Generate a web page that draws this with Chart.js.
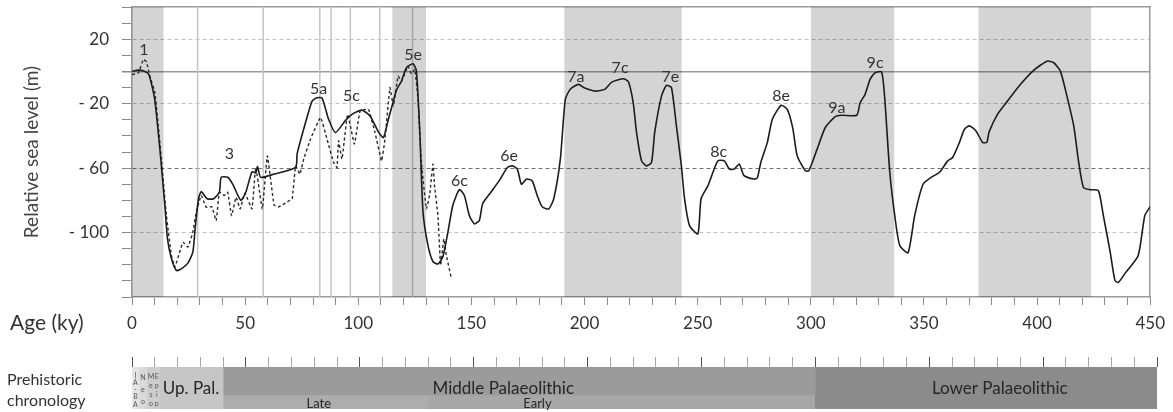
<!DOCTYPE html>
<html>
<head>
<meta charset="utf-8">
<title>Relative sea level and prehistoric chronology</title>
<script src="https://cdn.jsdelivr.net/npm/chart.js@4.4.1/dist/chart.umd.min.js"></script>
<style>
  html, body { margin: 0; padding: 0; background: #fff; }
  #wrap { position: relative; width: 1173px; height: 412px; }
  #seaChart { position: absolute; left: 0; top: 0; }
  #chronoChart { position: absolute; left: 0; top: 345px; }
</style>
</head>
<body>
<div id="wrap">
  <canvas id="seaChart" width="1173" height="345"></canvas>
  <canvas id="chronoChart" width="1173" height="67"></canvas>
</div>
<script>
// Main sea level curve (solid), age in ky, level in m
const seaAge = [0, 2.8, 5.7, 7.5, 10, 12.3, 14.5, 15.7, 17.4, 19.6, 21.8, 24.7, 26.9, 28, 29.4, 30.6,
  33.2, 36.1, 38.6, 39.4, 42.3, 44.5, 48.1, 50.3, 53, 54.7, 55.5, 56.9, 62.8, 72.3, 73, 76.7, 79.6,
  81.8, 84, 86.9, 89.9, 94.2, 97.2, 101.5, 105.2, 108.9, 111.1, 113.3, 115.5, 116.9, 119.1, 121.3,
  124.2, 125.7, 127.2, 128.6, 130.8, 133, 135.2, 137.4, 139.6, 141.8, 144.7, 146.9, 149.1, 151.3,
  153.5, 155, 158.6, 162.3, 165.9, 168.1, 170.3, 172.1, 174.4, 176.9, 179.1, 181.3, 184.2, 186.4,
  189.3, 191.5, 193.7, 197.4, 199.6, 204.7, 209.1, 212, 217.2, 219.4, 221.5, 223, 225.2, 227.4,
  229.6, 231, 234, 236.2, 238.4, 240.6, 242.8, 244.2, 246.4, 250.1, 251.5, 254.5, 258.9, 261.8,
  264, 266.2, 268.4, 270.5, 274.9, 276.4, 277.9, 280.8, 283, 286.9, 289.6, 292, 294, 297.6, 299.1,
  302.8, 306.4, 310.8, 313.7, 320.3, 321.8, 324, 326.2, 328.4, 331.3, 332.7, 334.9, 337.1, 339.3,
  343, 345.9, 349.6, 353.2, 356.9, 360.5, 362.7, 365.7, 367.9, 370.1, 373, 375.9, 377.8, 378.8,
  382.5, 386.9, 392.7, 398.6, 404.4, 407.4, 410.3, 413.2, 416.2, 418.4, 420.5, 423.5, 427.1, 429.3,
  432.3, 434.4, 435.9, 438.8, 444.7, 447.6, 450];
const seaLevel = [0, 0.8, 0, -2, -17, -48, -83, -104, -116, -123.5, -122.5, -119, -112, -96, -79, -74.6,
  -79, -79, -75, -65.7, -65.7, -70, -80, -75, -62.3, -63, -59, -65.7, -63.7, -59.6, -51, -31.7, -18.4,
  -16.3, -16.5, -29.7, -38, -30.7, -26.6, -24, -27.6, -37.5, -41, -29.7, -18.4, -11.5, -6, 2.3,
  4.8, 0.2, -38, -87, -108, -118, -119.5, -115, -99.8, -83, -73.4, -77, -89.5, -94.6,
  -92.5, -82, -75, -67.8, -59.6, -58.6, -60.6, -70, -66.8, -68, -77, -84, -85.3, -79,
  -54.4, -17.3, -11, -8, -10, -12.2, -11, -6.6, -4.5, -6.4, -19.4, -38, -55.5, -58.6,
  -56.5, -38, -15.3, -8.7, -10, -33.8, -58.6, -79, -95.7, -100.8, -79, -71, -55.5, -55.5,
  -60.6, -60.6, -57.5, -64.7, -66.8, -66, -56.5, -44, -29.7, -21, -23.5, -35, -52.4, -61.7, -61.7,
  -48.2, -34.8, -28, -27.2, -27.2, -19.4, -14.2, -4.9, -0.8, -0.4, -17.3, -62.6, -89.5, -108,
  -112.5, -89.5, -70, -65.7, -62.6, -55.5, -53.4, -44, -35.9, -33.8, -36.9, -44, -44, -37.5,
  -26.6, -18.4, -8, 0.8, 6.4, 5.4, 0.2, -15.3, -33.8, -56.5, -72, -73.4, -74, -89.5,
  -112, -129.7, -131, -125.5, -114.2, -89.5, -84];

// Second reconstruction (dotted), last glacial cycle only
const dashAge = [0, 2.8, 5, 6.4, 7.9, 10.1, 13, 15.2, 17.4, 18.9, 21.1, 22.5, 24.7, 26.9, 28.4, 30.6,
  32.8, 35.3, 37.2, 38.6, 40.8, 42.3, 44, 46, 47.8, 49.9, 53, 54.7, 57.6, 59.8, 62.8, 65, 68.6, 70.8,
  72.3, 74.2, 75.9, 78.9, 83.3, 86.2, 89.1, 90.6, 91.3, 92.8, 95.3, 98.3, 100.8, 104.5, 107.4, 110.3,
  111.8, 114, 115.5, 117.6, 119.1, 122, 123.5, 125, 126.4, 127.9, 130.1, 131.6, 133, 133.7, 135.2,
  136.4, 137.8, 138.9, 141];
const dashLevel = [-1.9, -1, 7.4, 6, -2.9, -13, -54.4, -89.5, -114, -121.4, -112, -106, -109, -99.8, -87.4, -77,
  -84.3, -84, -92.6, -75, -77, -75, -89.5, -78, -85.3, -75.5, -85.3, -59.6, -85.3, -52.4, -83, -84, -81, -79,
  -58.6, -63.7, -54.4, -42, -28.6, -42, -56.5, -59.6, -43, -54.4, -26.6, -45, -24.5, -23.5, -38, -55.5,
  -42, -10, -21.4, -2.9, -6, 3.3, -1.5, 1.2, -17.3, -56.5, -85.3, -76, -57.5, -70.9, -89.5,
  -120.4, -104, -114, -127.6];

// Marine isotope (sub)stage labels
const stageNames = ['1', '3', '5a', '5c', '5e', '6c', '6e', '7a', '7c', '7e', '8c', '8e', '9a', '9c'];
const stageAge = [5.3, 43, 82.5, 97, 124.2, 144.7, 166.7, 196.2, 215.7, 237.9, 259.3, 286.9, 311.5, 328.4];
const stageLevel = [13.6, -51, -11, -15.3, 10.5, -67.8, -52.4, -3.3, 2.3, -3.3, -49.9, -15.3, -22.4, 5.4];

// Shaded warm stages and substage boundaries (ky)
const bandStart = [0, 115, 191, 300, 374];
const bandEnd = [14, 130, 243, 337, 424];
const stageLines = [29, 58, 83, 88, 96.5, 109.5, 124];

// Axes
const ageMin = 0, ageMax = 450, ageStep = 10, ageLabelStep = 50;
const levelMin = -140, levelMax = 40, levelStep = 10;
const levelLabels = [20, -20, -60, -100];

// Prehistoric chronology (ky)
const periodNames = ['IA-BA', 'Neo', 'Meso', 'Up. Pal.', 'Middle Palaeolithic', 'Lower Palaeolithic'];
const periodStart = [0, 3, 6.5, 12, 40, 300];
const periodEnd = [3, 6.5, 12, 40, 300, 450];
const phaseNames = ['Late', 'Early'];
const phaseStart = [40, 130];
const phaseEnd = [130, 300];

const periodColors = ['#e4e4e4', '#d8d8d8', '#cdcdcd', '#c6c6c6', '#9b9b9b', '#8b8b8b'];
const phaseColors = ['#adadad', '#a7a7a7'];
const fontFamily = 'Lato, "Open Sans", sans-serif';

Chart.defaults.font.family = fontFamily;
Chart.defaults.color = '#333';

function toPoints(xs, ys) {
    return xs.map((x, i) => ({ x: x, y: ys[i] }));
}

// ---------- sea level chart ----------
const seaDatasets = [];
seaDatasets.push({
    label: 'Sea level',
    data: toPoints(seaAge, seaLevel),
    borderColor: '#1c1c1c',
    borderWidth: 1.6,
    pointRadius: 0,
    tension: 0.2,
    order: 0
});
seaDatasets.push({
    label: 'Sea level (last cycle)',
    data: toPoints(dashAge, dashLevel),
    borderColor: '#2a2a2a',
    borderWidth: 1.4,
    borderDash: [3, 2.5],
    pointRadius: 0,
    tension: 0.1,
    order: 1
});
bandStart.forEach((start, i) => {
    seaDatasets.push({
        data: [{ x: start, y: levelMax }, { x: bandEnd[i], y: levelMax }],
        fill: 'start',
        backgroundColor: 'rgba(0,0,0,0.17)',
        borderColor: 'rgba(0,0,0,0)',
        borderWidth: 1,
        pointRadius: 0,
        order: 3
    });
});
stageLines.forEach(age => {
    seaDatasets.push({
        data: [{ x: age, y: levelMin }, { x: age, y: levelMax }],
        borderColor: '#c4c4c4',
        borderWidth: 1.5,
        pointRadius: 0,
        order: 4
    });
});

function levelText(v) {
    if (!levelLabels.includes(v)) return '';
    return v < 0 ? '- ' + Math.abs(v) : String(v);
}

const stageLabelPlugin = {
    id: 'stageLabels',
    afterDatasetsDraw(chart) {
        const { ctx, scales: { x, y } } = chart;
        ctx.save();
        ctx.font = '16px ' + fontFamily;
        ctx.fillStyle = '#333';
        ctx.textAlign = 'center';
        ctx.textBaseline = 'middle';
        stageNames.forEach((name, i) => {
            ctx.fillText(name, x.getPixelForValue(stageAge[i]), y.getPixelForValue(stageLevel[i]));
        });
        ctx.restore();
    },
    afterDraw(chart) {
        const ctx = chart.ctx;
        ctx.save();
        ctx.font = '21px ' + fontFamily;
        ctx.fillStyle = '#333';
        ctx.textAlign = 'left';
        ctx.textBaseline = 'middle';
        ctx.fillText('Age (ky)', 10, 323);
        ctx.restore();
    }
};

new Chart(document.getElementById('seaChart'), {
    type: 'line',
    data: { datasets: seaDatasets },
    options: {
        responsive: false,
        animation: false,
        layout: { padding: { left: 0, right: 16, top: 7, bottom: 0 } },
        plugins: { legend: { display: false }, tooltip: { enabled: false } },
        scales: {
            x: {
                type: 'linear',
                position: 'bottom',
                min: ageMin,
                max: ageMax,
                afterFit: scale => { scale.height = 48; },
                ticks: {
                    stepSize: ageStep,
                    autoSkip: false,
                    maxRotation: 0,
                    minRotation: 0,
                    padding: 8,
                    font: { size: 17 },
                    color: '#333',
                    callback: v => (v % ageLabelStep === 0 ? String(v) : '')
                },
                grid: { drawOnChartArea: false, tickLength: 8, tickColor: '#8a8a8a' },
                border: { color: '#9a9a9a', width: 1.5 }
            },
            y: {
                type: 'linear',
                min: levelMin,
                max: levelMax,
                afterFit: scale => {
                    scale.width = 132;
                    scale.paddingTop = 0;
                    scale.paddingBottom = 0;
                },
                title: {
                    display: true,
                    text: 'Relative sea level (m)',
                    font: { size: 19 },
                    color: '#444',
                    padding: { top: 20, bottom: 0 }
                },
                ticks: {
                    stepSize: levelStep,
                    autoSkip: false,
                    padding: 13,
                    font: { size: 17 },
                    color: '#333',
                    callback: v => levelText(v)
                },
                grid: {
                    color: ctx => {
                        const v = ctx.tick ? ctx.tick.value : null;
                        if (v === 0) return '#9a9a9a';
                        if (v === -60) return '#707070';
                        if (levelLabels.includes(v)) return '#c0c0c0';
                        return 'rgba(0,0,0,0)';
                    },
                    lineWidth: ctx => (ctx.tick && ctx.tick.value === 0 ? 1.5 : 1),
                    tickLength: 10,
                    tickColor: '#8a8a8a'
                },
                border: {
                    color: '#9a9a9a',
                    width: 1.5,
                    dash: ctx => (ctx.tick && ctx.tick.value !== 0 ? [4, 3] : [])
                }
            },
            x2: {
                type: 'linear',
                position: 'top',
                min: ageMin,
                max: ageMax,
                ticks: { display: false },
                grid: { drawOnChartArea: false, drawTicks: false },
                border: { color: '#9a9a9a', width: 1.5 }
            },
            y2: {
                type: 'linear',
                position: 'right',
                min: levelMin,
                max: levelMax,
                afterFit: scale => {
                    scale.paddingTop = 0;
                    scale.paddingBottom = 0;
                },
                ticks: { display: false },
                grid: { drawOnChartArea: false, drawTicks: false },
                border: { color: '#9a9a9a', width: 1.5 }
            }
        }
    },
    plugins: [stageLabelPlugin]
});

// ---------- chronology bar ----------
// three rows: the top two hold the periods, the bottom one the Late / Early split
const rows = ['upper', 'middle', 'lower'];
const chronoDatasets = [];
periodNames.forEach((name, i) => {
    const span = [periodStart[i], periodEnd[i]];
    const split = name === 'Middle Palaeolithic';
    chronoDatasets.push({
        label: name,
        data: [span, span, split ? null : span],
        backgroundColor: periodColors[i]
    });
});
phaseNames.forEach((name, i) => {
    chronoDatasets.push({
        label: name,
        data: [null, null, [phaseStart[i], phaseEnd[i]]],
        backgroundColor: phaseColors[i]
    });
});

// text anchors (ky) for the chronology labels
const periodLabelAge = [null, null, null, 13.5, 163, 381];
const phaseLabelAge = [82, 178];
const tinyText = ['IA-BA', 'Neo', 'Meso', 'Epip'];
const tinyAge = [1.5, 4.8, 8.3, 10.9];

const chronoLabelPlugin = {
    id: 'chronoLabels',
    afterDatasetsDraw(chart) {
        const { ctx, chartArea, scales: { x } } = chart;
        ctx.save();
        ctx.fillStyle = '#262626';
        ctx.textBaseline = 'alphabetic';
        ctx.font = '17px ' + fontFamily;
        periodNames.forEach((name, i) => {
            if (periodLabelAge[i] === null) return;
            ctx.textAlign = name === 'Up. Pal.' ? 'left' : 'center';
            ctx.fillText(name, x.getPixelForValue(periodLabelAge[i]), chartArea.top + 27);
        });
        ctx.font = '13px ' + fontFamily;
        ctx.textAlign = 'center';
        phaseNames.forEach((name, i) => {
            ctx.fillText(name, x.getPixelForValue(phaseLabelAge[i]), chartArea.bottom - 1);
        });
        // stacked letters in the narrow Holocene columns
        ctx.font = '7px ' + fontFamily;
        ctx.fillStyle = '#555';
        ctx.textBaseline = 'middle';
        tinyText.forEach((word, i) => {
            const letters = word.split('');
            const step = (chartArea.bottom - chartArea.top - 6) / letters.length;
            letters.forEach((ch, j) => {
                ctx.fillText(ch, x.getPixelForValue(tinyAge[i]), chartArea.top + 5 + step * (j + 0.5));
            });
        });
        ctx.restore();
    },
    afterDraw(chart) {
        const ctx = chart.ctx;
        ctx.save();
        ctx.font = '16px ' + fontFamily;
        ctx.fillStyle = '#333';
        ctx.textAlign = 'left';
        ctx.textBaseline = 'alphabetic';
        ctx.fillText('Prehistoric', 7, 40);
        ctx.fillText('chronology', 7, 61);
        ctx.restore();
    }
};

new Chart(document.getElementById('chronoChart'), {
    type: 'bar',
    data: { labels: rows, datasets: chronoDatasets },
    options: {
        indexAxis: 'y',
        responsive: false,
        animation: false,
        layout: { padding: { left: 132, right: 16, top: 12, bottom: 3 } },
        plugins: { legend: { display: false }, tooltip: { enabled: false } },
        datasets: {
            bar: { barPercentage: 1, categoryPercentage: 1, grouped: false, borderWidth: 0 }
        },
        scales: {
            x: {
                type: 'linear',
                position: 'top',
                min: ageMin,
                max: ageMax,
                afterFit: scale => { scale.height = 10; },
                ticks: { display: false, stepSize: ageStep, autoSkip: false },
                grid: {
                    drawOnChartArea: false,
                    tickLength: 10,
                    tickColor: ctx => (ctx.tick && ctx.tick.value % ageLabelStep === 0 ? '#555' : '#a8a8a8')
                },
                border: { display: false }
            },
            y: { display: false }
        }
    },
    plugins: [chronoLabelPlugin]
});
</script>
</body>
</html>
